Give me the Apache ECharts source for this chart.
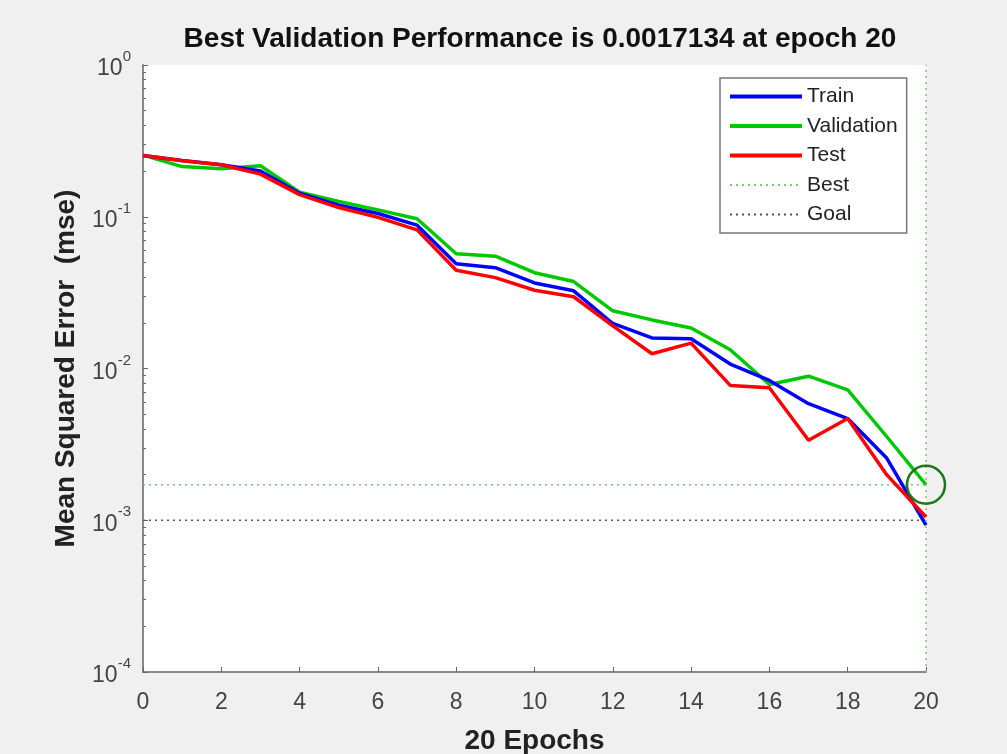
<!DOCTYPE html>
<html>
<head>
<meta charset="utf-8">
<script src="https://cdn.jsdelivr.net/npm/echarts@6/dist/echarts.min.js"></script>
<style>
  html, body { margin: 0; padding: 0; background: #f0f0f0; }
  #chart { width: 1007px; height: 754px; }
</style>
</head>
<body>
<div id="chart"></div>
<script>
// epochs 0..20
const epochs = [0, 1, 2, 3, 4, 5, 6, 7, 8, 9, 10, 11, 12, 13, 14, 15, 16, 17, 18, 19, 20]
const trainMse = [0.253, 0.235, 0.22, 0.2, 0.143, 0.119, 0.105, 0.088, 0.049, 0.0462, 0.0366,
    0.0325, 0.0198, 0.0159, 0.0157, 0.0107, 0.00834, 0.00586, 0.00468, 0.00256, 0.00093]
const validationMse = [0.255, 0.214, 0.207, 0.217, 0.145, 0.126, 0.111, 0.097, 0.057, 0.055, 0.0428,
    0.0374, 0.024, 0.0209, 0.0185, 0.0133, 0.00785, 0.0089, 0.00724, 0.00355, 0.0017134]
const testMse = [0.253, 0.234, 0.22, 0.191, 0.14, 0.115, 0.099, 0.082, 0.0444, 0.0397, 0.0328,
    0.0297, 0.0191, 0.0125, 0.0147, 0.00774, 0.00747, 0.00337, 0.00468, 0.00199, 0.00105]
const bestEpoch = 20
const bestPerf = 0.0017134
const goal = 0.001
const xTicks = [0, 2, 4, 6, 8, 10, 12, 14, 16, 18, 20]

const chart = echarts.init(document.getElementById('chart'))

const pairs = (ys) => epochs.map((e, i) => [e, ys[i]])

const supLabel = (v) => {
    const p = Math.round(Math.log10(v))
    return '{b|10}{s|' + p + '}'
}

const font = 'Liberation Sans'

const option = {
    backgroundColor: '#f0f0f0',
    animation: false,
    title: {
        text: 'Best Validation Performance is ' + bestPerf + ' at epoch ' + bestEpoch,
        left: 535,
        textAlign: 'center',
        top: 20,
        textStyle: { fontFamily: font, fontSize: 28, fontWeight: 'bold', color: '#111' }
    },
    grid: {
        left: 143, right: 81, top: 65, bottom: 82,
        outerBoundsMode: 'none', containLabel: false,
        show: true, backgroundColor: '#fff', borderWidth: 0
    },
    legend: {
        orient: 'vertical',
        left: 720, top: 78,
        backgroundColor: '#fff',
        borderColor: '#777', borderWidth: 1.5, borderRadius: 0,
        padding: [8, 9, 8, 8],
        itemWidth: 72, itemHeight: 18, itemGap: 8.5, itemTextGap: 4,
        itemStyle: { opacity: 0 },
        textStyle: { fontFamily: font, fontSize: 21, color: '#222' },
        data: [
            { name: 'Train', lineStyle: { width: 4 } },
            { name: 'Validation', lineStyle: { width: 4 } },
            { name: 'Test', lineStyle: { width: 4 } },
            { name: 'Best' },
            { name: 'Goal' }
        ]
    },
    xAxis: {
        type: 'value',
        min: 0, max: 20, interval: 2,
        name: bestEpoch + ' Epochs',
        nameLocation: 'middle', nameGap: 55,
        nameTextStyle: { fontFamily: font, fontSize: 28, fontWeight: 'bold', color: '#222' },
        axisLine: { lineStyle: { color: '#888', width: 2 } },
        axisTick: { inside: true, length: 5, lineStyle: { color: '#666' } },
        axisLabel: { fontFamily: font, fontSize: 23, color: '#444', margin: 19,
            customValues: xTicks },
        splitLine: { show: false }
    },
    yAxis: {
        type: 'log',
        logBase: 10,
        min: 0.0001, max: 1,
        name: 'Mean Squared Error  (mse)',
        nameLocation: 'middle', nameGap: 63,
        nameTextStyle: { fontFamily: font, fontSize: 28, fontWeight: 'bold', color: '#222' },
        axisLine: { show: true, lineStyle: { color: '#888', width: 2 } },
        axisTick: { inside: true, length: 5, lineStyle: { color: '#666' } },
        minorTick: { show: true, splitNumber: 9, length: 3, lineStyle: { color: '#666' } },
        axisLabel: {
            formatter: supLabel,
            margin: 12,
            rich: {
                b: { fontFamily: font, fontSize: 23, color: '#444', padding: [8, 0, 0, 0] },
                s: { fontFamily: font, fontSize: 15, color: '#444', verticalAlign: 'top', padding: [0, 0, 10, 0] }
            }
        },
        splitLine: { show: false }
    },
    series: [
        {
            name: 'Train', type: 'line', data: pairs(trainMse), symbol: 'none', z: 4,
            lineStyle: { color: '#0000ff', width: 3.5 }, itemStyle: { color: '#0000ff' }
        },
        {
            name: 'Validation', type: 'line', data: pairs(validationMse), symbol: 'none', z: 3,
            lineStyle: { color: '#00c800', width: 3.5 }, itemStyle: { color: '#00c800' },
            markPoint: {
                symbol: 'circle', symbolSize: 38, silent: true,
                itemStyle: { color: 'rgba(0,0,0,0)', borderColor: '#1a7a1a', borderWidth: 2.5 },
                label: { show: false },
                data: [{ coord: [bestEpoch, bestPerf] }]
            }
        },
        {
            name: 'Test', type: 'line', data: pairs(testMse), symbol: 'none', z: 5,
            lineStyle: { color: '#ff0000', width: 3.5 }, itemStyle: { color: '#ff0000' }
        },
        {
            name: 'Best', type: 'line', data: [[0, bestPerf], [20, bestPerf]], symbol: 'none', z: 2,
            lineStyle: { color: '#7cc87c', width: 1.5, type: [2, 4] }, itemStyle: { color: '#7cc87c' },
            markLine: {
                silent: true, symbol: 'none', label: { show: false },
                lineStyle: { color: '#7cc87c', width: 1.5, type: [2, 4] },
                data: [{ xAxis: bestEpoch }]
            }
        },
        {
            name: 'Goal', type: 'line', data: [[0, goal], [20, goal]], symbol: 'none', z: 2,
            lineStyle: { color: '#555', width: 1.5, type: [2, 4] }, itemStyle: { color: '#555' }
        }
    ]
}

chart.setOption(option)
</script>
</body>
</html>
